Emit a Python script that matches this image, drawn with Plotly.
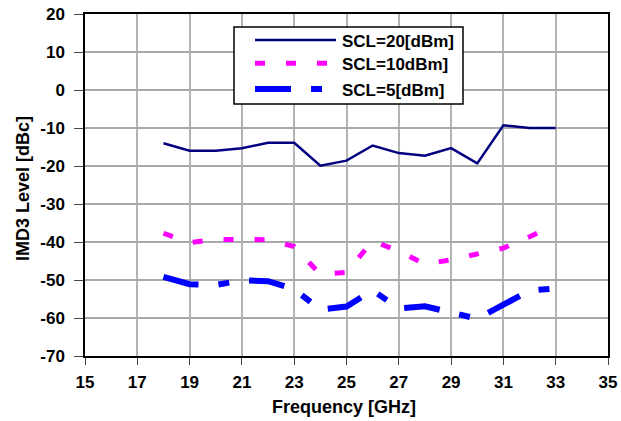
import plotly.graph_objects as go

freq_ghz = [18, 19, 20, 21, 22, 23, 24, 25, 26, 27, 28, 29, 30, 31, 32, 33]
scl20 = [-14.0, -16.0, -16.0, -15.3, -13.9, -13.9, -19.9, -18.6, -14.6, -16.6, -17.3, -15.3, -19.3, -9.3, -10.0, -10.0]
scl10 = [-37.7, -40.2, -39.3, -39.4, -39.4, -41.2, -48.5, -48.0, -39.7, -42.4, -45.8, -44.7, -43.3, -41.6, -38.6, -35.5]
scl5 = [-49.2, -51.1, -51.3, -50.1, -50.3, -52.4, -57.8, -57.0, -52.7, -57.5, -56.9, -58.6, -60.2, -56.5, -52.8, -52.2]

series_names = ["SCL=20[dBm]", "SCL=10dBm]", "SCL=5[dBm]"]
x_ticks = [15, 17, 19, 21, 23, 25, 27, 29, 31, 33, 35]
y_ticks = [20, 10, 0, -10, -20, -30, -40, -50, -60, -70]
x_title = "Frequency [GHz]"
y_title = "IMD3 Level [dBc]"

FONT = "Liberation Sans, Arial, sans-serif"
colors = ["#000080", "#FF00FF", "#0000FF"]
widths = [2.5, 5, 6]
dashes = ["solid", "10px,21px", "36px,20px,11px,20px"]

fig = go.Figure()
for ys, name, c, w, d in zip([scl20, scl10, scl5], series_names, colors, widths, dashes):
    fig.add_trace(go.Scatter(x=freq_ghz, y=ys, mode="lines", name=name,
                             line=dict(color=c, width=w, dash=d), showlegend=False))

# manual legend (box, line samples, labels)
L, R, T, B = 85, 608, 14, 356
W, H = R - L, B - T
px = lambda x: (x - L) / W
py = lambda y: (B - y) / H

shapes = [dict(type="rect", xref="paper", yref="paper",
               x0=px(234), x1=px(463), y0=py(104), y1=py(27),
               line=dict(color="black", width=1.5), fillcolor="white", layer="above")]
legend_rows = [(40, 336), (63.3, 327), (89, 322)]
annotations = []
for (ly, xend), c, w, d, name in zip(legend_rows, colors, widths, dashes, series_names):
    shapes.append(dict(type="line", xref="paper", yref="paper",
                       x0=px(255), x1=px(xend), y0=py(ly), y1=py(ly),
                       line=dict(color=c, width=w, dash=d), layer="above"))
    annotations.append(dict(xref="paper", yref="paper", x=px(340), y=py(ly + 1.5),
                            xanchor="left", yanchor="middle", text=name, showarrow=False,
                            font=dict(family=FONT, size=17, color="black", weight="bold")))

annotations.append(dict(xref="paper", yref="paper", x=px(344), y=py(407),
                        xanchor="center", yanchor="middle", text=x_title, showarrow=False,
                        font=dict(family=FONT, size=18, color="black", weight="bold")))
annotations.append(dict(xref="paper", yref="paper", x=px(23), y=py(189),
                        xanchor="center", yanchor="middle", text=y_title, showarrow=False,
                        textangle=-90,
                        font=dict(family=FONT, size=18, color="black", weight="bold")))

fig.update_layout(
    width=621, height=421,
    margin=dict(l=L, r=621 - R, t=T, b=421 - B),
    paper_bgcolor="white", plot_bgcolor="white",
    shapes=shapes, annotations=annotations,
    font=dict(family=FONT, size=17, color="black", weight="bold"),
)
fig.update_xaxes(
    range=[15, 35], tickvals=x_ticks, ticktext=[str(v) for v in x_ticks],
    showgrid=True, gridcolor="#b4b4b4", gridwidth=1.5,
    showline=True, linecolor="black", linewidth=1.5, mirror=True,
    ticks="outside", ticklen=7, tickcolor="#444", tickwidth=1.2,
    ticklabelstandoff=3,
    tickfont=dict(family=FONT, size=17, color="black", weight="bold"),
    zeroline=False, automargin=False,
)
fig.update_yaxes(
    range=[-70, 20], tickvals=y_ticks, ticktext=[str(v) for v in y_ticks],
    showgrid=True, gridcolor="#a8a8a8", gridwidth=1.5,
    showline=True, linecolor="black", linewidth=1.5, mirror=True,
    ticks="outside", ticklen=9, tickcolor="#444", tickwidth=1.2,
    ticklabelstandoff=6,
    tickfont=dict(family=FONT, size=17, color="black", weight="bold"),
    zeroline=False, automargin=False,
)

fig.write_html("out.html", config={"displayModeBar": False},
               post_script="document.body.style.margin='0';document.body.style.overflow='hidden';")
